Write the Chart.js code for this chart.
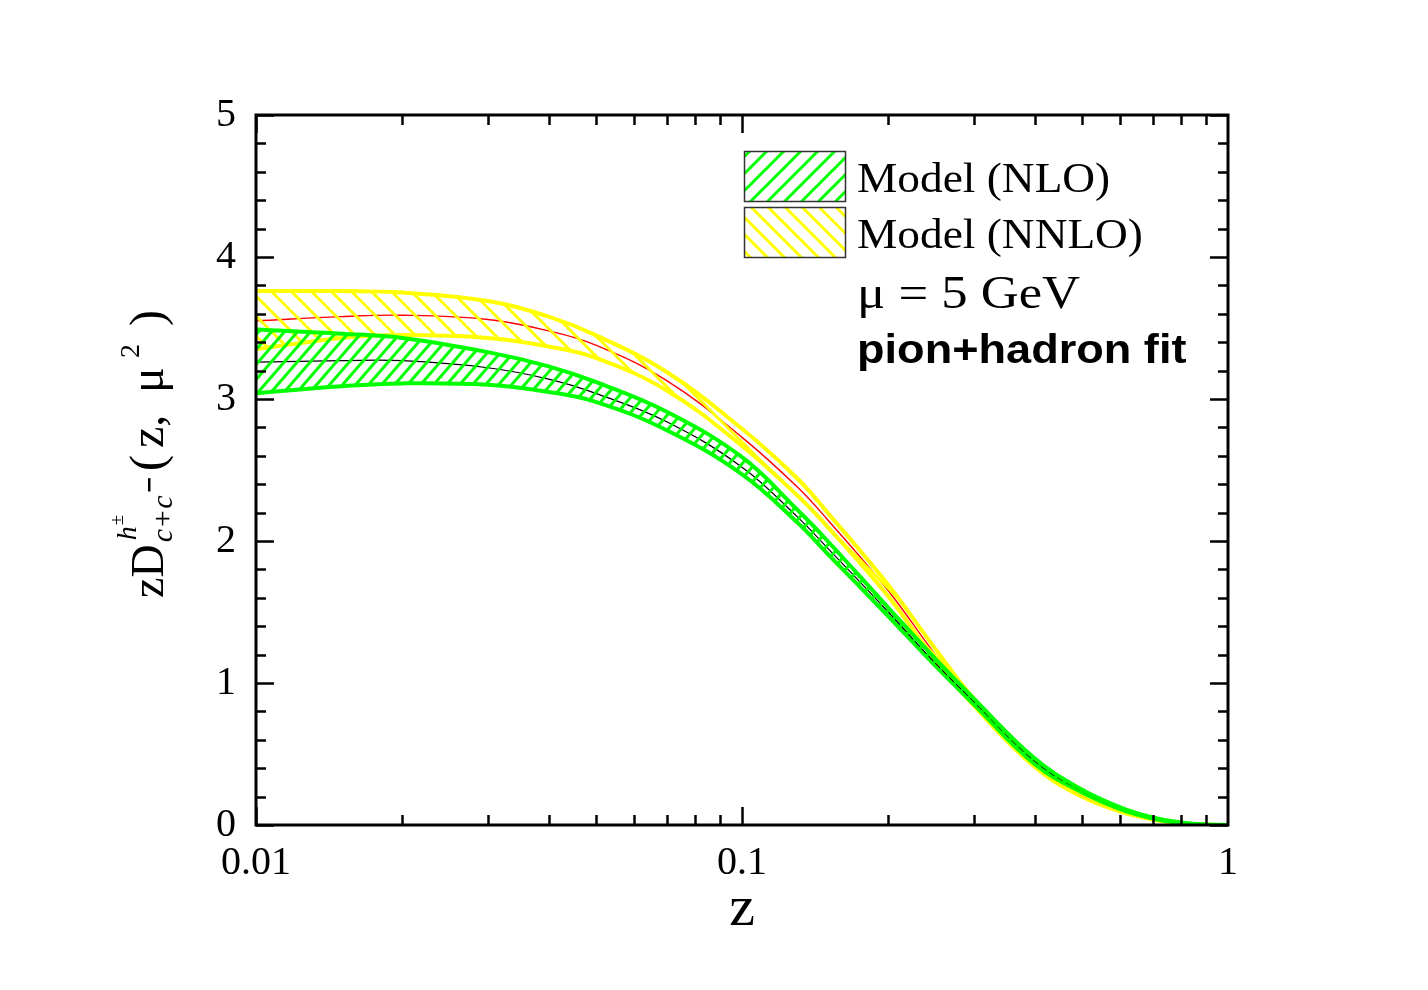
<!DOCTYPE html>
<html><head><meta charset="utf-8">
<script src="https://cdn.jsdelivr.net/npm/chart.js@4.4.1/dist/chart.umd.min.js"></script>
<style>html,body{margin:0;padding:0;background:#fff;}</style>
</head><body>
<canvas id="c" width="1428" height="990"></canvas>
<script>
// ---- data ----
const zValues     = [0.01, 0.015, 0.02, 0.03, 0.04, 0.05, 0.07, 0.1, 0.13, 0.15, 0.2, 0.25, 0.3, 0.4, 0.5, 0.6, 0.7, 0.8, 0.9, 1.0];
const nloUpper    = [3.49, 3.46, 3.43, 3.33, 3.23, 3.12, 2.91, 2.59, 2.22, 2.00, 1.53, 1.17, 0.89, 0.47, 0.25, 0.125, 0.053, 0.018, 0.004, 0];
const nloCentral  = [3.26, 3.27, 3.27, 3.22, 3.14, 3.04, 2.84, 2.52, 2.17, 1.95, 1.50, 1.14, 0.87, 0.45, 0.24, 0.118, 0.050, 0.016, 0.003, 0];
const nloLower    = [3.04, 3.09, 3.11, 3.10, 3.05, 2.98, 2.78, 2.47, 2.13, 1.91, 1.47, 1.12, 0.85, 0.43, 0.23, 0.112, 0.046, 0.014, 0.002, 0];
const nnloUpper   = [3.76, 3.76, 3.75, 3.69, 3.58, 3.45, 3.19, 2.79, 2.44, 2.20, 1.69, 1.24, 0.89, 0.44, 0.22, 0.105, 0.045, 0.015, 0.003, 0];
const nnloCentral = [3.55, 3.58, 3.59, 3.56, 3.48, 3.38, 3.13, 2.73, 2.38, 2.15, 1.65, 1.20, 0.87, 0.43, 0.21, 0.100, 0.042, 0.013, 0.003, 0];
const nnloLower   = [3.35, 3.43, 3.45, 3.43, 3.37, 3.29, 3.06, 2.67, 2.32, 2.10, 1.61, 1.16, 0.84, 0.41, 0.20, 0.095, 0.039, 0.012, 0.002, 0];
const xTickLabels = [0.01, 0.1, 1];
const yTickValues = [0, 1, 2, 3, 4, 5];
const legendLabels = ['Model (NLO)', 'Model (NNLO)'];
const noteLines = ['\u03bc = 5 GeV', 'pion+hadron fit'];
const xTitle = 'z';

const GREEN = '#00ff00', YELLOW = '#ffff00';
const SERIF = '"Liberation Serif", "Times New Roman", serif';
const SANS = '"Liberation Sans", Arial, sans-serif';

function makeHatch(color, a, b, dir, lw) {
  const c = document.createElement('canvas');
  c.width = a; c.height = b;
  const g = c.getContext('2d');
  g.strokeStyle = color; g.lineWidth = lw;
  for (let k = -2; k <= 2; k++) {
    g.beginPath();
    if (dir === '/') { g.moveTo(k*a - a, 2*b); g.lineTo(k*a + 2*a, -b); }
    else { g.moveTo(k*a - a, -b); g.lineTo(k*a + 2*a, 2*b); }
    g.stroke();
  }
  return g.createPattern(c, 'repeat');
}
const greenHatch = makeHatch(GREEN, 13, 15, '/', 3);
const yellowHatch = makeHatch(YELLOW, 20, 20, '\\', 3);
const greenHatchLeg = makeHatch(GREEN, 17, 17, '/', 3);
const yellowHatchLeg = makeHatch(YELLOW, 17, 17, '\\', 3);

const pts = arr => zValues.map((z, i) => ({x: z, y: arr[i]}));
const base = {pointRadius: 0, tension: 0.4, fill: false};

const framePlugin = {
  id: 'frame',
  afterDatasetsDraw(chart) {
    const {ctx, chartArea: a, scales: {x, y}} = chart;
    ctx.save();
    ctx.strokeStyle = '#000';
    ctx.lineWidth = 2.5;
    ctx.lineCap = 'butt';
    for (let i = 0; i <= 25; i++) {
      const v = i * 0.2;
      const p = Math.round(y.getPixelForValue(v)) + 0.5;
      const len = (i % 5 === 0) ? 18 : 10;
      ctx.beginPath();
      ctx.moveTo(a.left, p); ctx.lineTo(a.left + len, p);
      ctx.moveTo(a.right, p); ctx.lineTo(a.right - len, p);
      ctx.stroke();
    }
    for (const d of [0.01, 0.1]) {
      for (let k = 1; k <= 9; k++) {
        const p = Math.round(x.getPixelForValue(k * d)) + 0.5;
        const len = (k === 1) ? 18 : 10;
        ctx.beginPath();
        ctx.moveTo(p, a.bottom); ctx.lineTo(p, a.bottom - len);
        ctx.moveTo(p, a.top); ctx.lineTo(p, a.top + len);
        ctx.stroke();
      }
    }
    ctx.lineWidth = 3;
    ctx.strokeRect(a.left, a.top, a.right - a.left, a.bottom - a.top);
    ctx.restore();
  }
};

function wideText(ctx, s, x, y, sx) {
  ctx.save();
  ctx.translate(x, y);
  ctx.scale(sx, 1);
  ctx.fillText(s, 0, 0);
  ctx.restore();
}

const textPlugin = {
  id: 'texts',
  afterDraw(chart) {
    const {ctx, chartArea: a} = chart;
    ctx.save();
    ctx.fillStyle = '#000';
    ctx.textBaseline = 'alphabetic';
    ctx.textAlign = 'left';
    const boxes = [[151, greenHatchLeg], [207, yellowHatchLeg]];
    boxes.forEach(([top, pat], i) => {
      ctx.fillStyle = '#fff';
      ctx.fillRect(744, top, 101, 50);
      ctx.fillStyle = pat;
      ctx.fillRect(744, top, 101, 50);
      ctx.strokeStyle = '#333';
      ctx.lineWidth = 1.5;
      ctx.strokeRect(744.5, top + 0.5, 101, 50);
      ctx.fillStyle = '#000';
      ctx.font = '42px ' + SERIF;
      wideText(ctx, legendLabels[i], 857, top + 41, 1.08);
    });
    ctx.font = '47px ' + SERIF;
    wideText(ctx, noteLines[0], 857, 308, 1.12);
    ctx.font = 'bold 41px ' + SANS;
    wideText(ctx, noteLines[1], 857, 363, 1.1);
    // x title
    ctx.font = '58px ' + SERIF;
    ctx.textAlign = 'center';
    ctx.fillText(xTitle, (a.left + a.right) / 2, 925);
    // y title (rotated)
    ctx.translate(163, 598);
    ctx.rotate(-Math.PI / 2);
    ctx.textAlign = 'left';
    let t = 0;
    ctx.font = '46px ' + SERIF;
    ctx.fillText('zD', t, 0);
    t += ctx.measureText('zD').width;
    ctx.font = 'italic 28px ' + SERIF;
    ctx.fillText('h', t + 4, -27);
    const wh = ctx.measureText('h').width;
    ctx.font = '19px ' + SERIF;
    ctx.fillText('\u00b1', t + 5 + wh, -40);
    ctx.font = 'italic 30px ' + SERIF;
    ctx.fillText('c+c', t + 2, 9);
    const wcc = ctx.measureText('c+c').width;
    const wc = ctx.measureText('c').width;
    ctx.fillRect(t + 2 + wcc + 4, -15, wc, 2.5);
    ctx.font = '48px ' + SERIF;
    const pieces = [['(', 127], ['z,', 150], ['\u03bc', 205]];
    pieces.forEach(([s, p]) => ctx.fillText(s, p, 0));
    ctx.font = '28px ' + SERIF;
    ctx.fillText('2', 240, -24);
    ctx.font = '48px ' + SERIF;
    ctx.fillText(')', 272, 0);
    ctx.restore();
  }
};

new Chart(document.getElementById('c'), {
  type: 'line',
  data: {
    datasets: [
      {...base, label: 'NLO upper', data: pts(nloUpper), borderColor: GREEN, borderWidth: 4,
        backgroundColor: greenHatch, fill: {target: 2, above: greenHatch, below: greenHatch}},
      {...base, label: 'NLO', data: pts(nloCentral), borderColor: '#000', borderWidth: 1.2},
      {...base, label: 'NLO lower', data: pts(nloLower), borderColor: GREEN, borderWidth: 4},
      {...base, label: 'NNLO upper', data: pts(nnloUpper), borderColor: YELLOW, borderWidth: 4,
        backgroundColor: yellowHatch, fill: {target: 5, above: yellowHatch, below: yellowHatch}},
      {...base, label: 'NNLO', data: pts(nnloCentral), borderColor: '#ff0000', borderWidth: 1.4},
      {...base, label: 'NNLO lower', data: pts(nnloLower), borderColor: YELLOW, borderWidth: 4}
    ]
  },
  options: {
    responsive: false,
    animation: false,
    events: [],
    layout: {padding: {left: 0, right: 200, top: 115, bottom: 0}},
    plugins: {legend: {display: false}, tooltip: {enabled: false}},
    scales: {
      x: {
        type: 'logarithmic', min: 0.01, max: 1,
        grid: {display: false, drawTicks: false},
        border: {display: false},
        afterBuildTicks: s => { s.ticks = xTickLabels.map(v => ({value: v})); },
        ticks: {autoSkip: false, maxRotation: 0, padding: 14, color: '#000',
          font: {family: SERIF, size: 40},
          callback: v => String(v)},
        afterFit: s => { s.height = 165; }
      },
      y: {
        min: 0, max: 5,
        grid: {display: false, drawTicks: false},
        border: {display: false},
        afterBuildTicks: s => { s.ticks = yTickValues.map(v => ({value: v})); },
        ticks: {padding: 20, color: '#000', font: {family: SERIF, size: 40}},
        afterFit: s => { s.width = 256; }
      }
    }
  },
  plugins: [framePlugin, textPlugin]
});
</script>
</body></html>
